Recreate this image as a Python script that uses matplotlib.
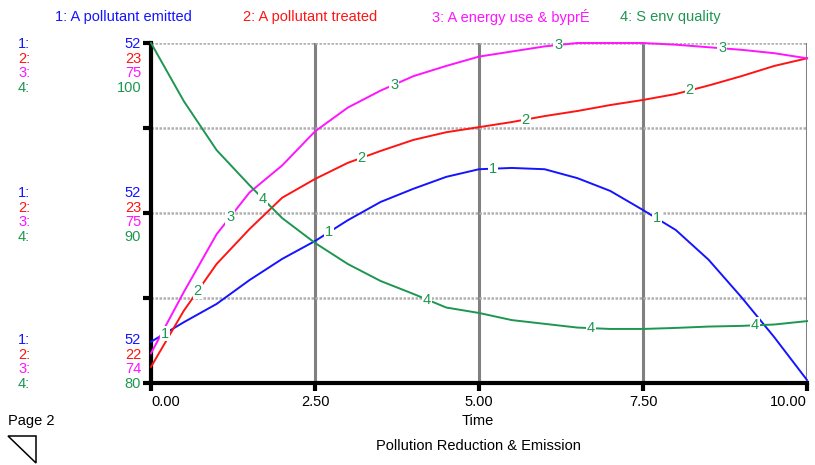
import matplotlib.pyplot as plt
import numpy as np
from matplotlib.patches import Polygon

plt.rcParams['font.family'] = ['Liberation Sans', 'DejaVu Sans']

# simulation output (DT = 0.5)
time = np.arange(0, 10.01, 0.5)
pollutant_emitted = [51.697, 51.743, 51.786, 51.842, 51.892, 51.934, 51.983, 52.026,
                     52.057, 52.085, 52.103, 52.106, 52.103, 52.082, 52.052, 52.007,
                     51.960, 51.890, 51.802, 51.708, 51.607]
pollutant_treated = [22.419, 22.485, 22.540, 22.581, 22.618, 22.640, 22.659, 22.673,
                     22.686, 22.695, 22.701, 22.707, 22.714, 22.720, 22.727, 22.733,
                     22.740, 22.750, 22.761, 22.773, 22.782]
energy_use = [74.435, 74.507, 74.575, 74.624, 74.656, 74.696, 74.724, 74.744,
              74.761, 74.773, 74.784, 74.790, 74.796, 74.800, 74.800, 74.800,
              74.798, 74.795, 74.792, 74.788, 74.782]
env_quality = [100.0, 96.58, 93.70, 91.64, 89.70, 88.24, 87.00, 86.00, 85.24, 84.44,
               84.12, 83.70, 83.48, 83.26, 83.18, 83.18, 83.24, 83.32, 83.36, 83.44,
               83.64]

names = ['A pollutant emitted', 'A pollutant treated', 'A energy use & byprÉ', 'S env quality']
series = [pollutant_emitted, pollutant_treated, energy_use, env_quality]
ranges = [(51.6, 52.4), (22.4, 22.8), (74.4, 74.8), (80, 100)]
colors = ['#1414ff', '#ff1414', '#ff14ff', '#1e9650']
label_color = '#1e9650'
x_ticks = [0, 2.5, 5, 7.5, 10]
FS = 10.5

W, H = 815, 465
fig = plt.figure(figsize=(W / 100, H / 100), dpi=100)
ax = fig.add_axes([151 / W, 1 - 383 / H, (807 - 151) / W, (383 - 43) / H])
ax.set_xlim(0, 10)
ax.set_ylim(0, 1)
ax.set_xticks(x_ticks)
ax.set_xticklabels([f'{v:.2f}' for v in x_ticks])
ticklabels = ax.get_xticklabels()
ticklabels[0].set_ha('left')
ticklabels[-1].set_ha('right')
ax.set_yticks([0, 0.25, 0.5, 0.75, 1])
ax.tick_params(axis='y', labelleft=False)
ax.tick_params(direction='out', length=6, width=3, color='black', labelsize=FS, pad=3)
ax.grid(axis='y', color='#b0b0b0', lw=1.8, linestyle=(0, (1, 0.6)))
ax.grid(axis='x', color='#808080', lw=2.2)
for side in ['top', 'right']:
    ax.spines[side].set_visible(False)
for side in ['left', 'bottom']:
    ax.spines[side].set_linewidth(3)
    ax.spines[side].set_zorder(5)

# one hidden y scale per variable, like STELLA's stacked scales
axes = []
for data, (lo, hi), c in zip(series, ranges, colors):
    tw = ax.twinx()
    tw.set_ylim(lo, hi)
    tw.axis('off')
    tw.plot(time, data, color=c, lw=1.4, clip_on=False)
    axes.append(tw)

# numbered curve labels with a gap in the line
for i, data in enumerate(series):
    for j in range(4):
        t = 0.21 + 0.5 * i + 2.5 * j
        axes[-1].text(t, np.interp(t, time, data), str(i + 1), transform=axes[i].transData,
                      color=label_color, fontsize=FS, ha='center', va='center', zorder=10,
                      bbox=dict(facecolor='white', edgecolor='none', pad=0.6))

# legend line on top
for i, (name, x) in enumerate(zip(names, [55, 243, 432, 620])):
    fig.text(x / W, 1 - 17 / H, f'{i + 1}: {name}', color=colors[i], fontsize=FS, va='center')

# scale labels to the left of the axis: top, middle, bottom of each range
step = 14.7
for y0, frac in [(44, 1.0), (193, 0.5), (340, 0.0)]:
    for i, (lo, hi) in enumerate(ranges):
        y = 1 - (y0 + i * step) / H
        fig.text(18 / W, y, f'{i + 1}:', color=colors[i], fontsize=FS, va='center')
        fig.text(141 / W, y, f'{lo + (hi - lo) * frac:.0f}', color=colors[i], fontsize=FS,
                 va='center', ha='right')

fig.text(478 / W, 1 - 421 / H, 'Time', fontsize=FS, ha='center', va='center')
fig.text(8 / W, 1 - 421 / H, 'Page 2', fontsize=FS, va='center')
fig.text(478 / W, 1 - 446 / H, 'Pollution Reduction & Emission', fontsize=FS,
         ha='center', va='center')
fig.add_artist(Polygon([(8 / W, 1 - 436 / H), (36 / W, 1 - 436 / H), (36 / W, 1 - 463 / H)],
                       closed=True, fill=False, lw=1.1, edgecolor='black',
                       transform=fig.transFigure))

fig.savefig('out.png', dpi=100)
